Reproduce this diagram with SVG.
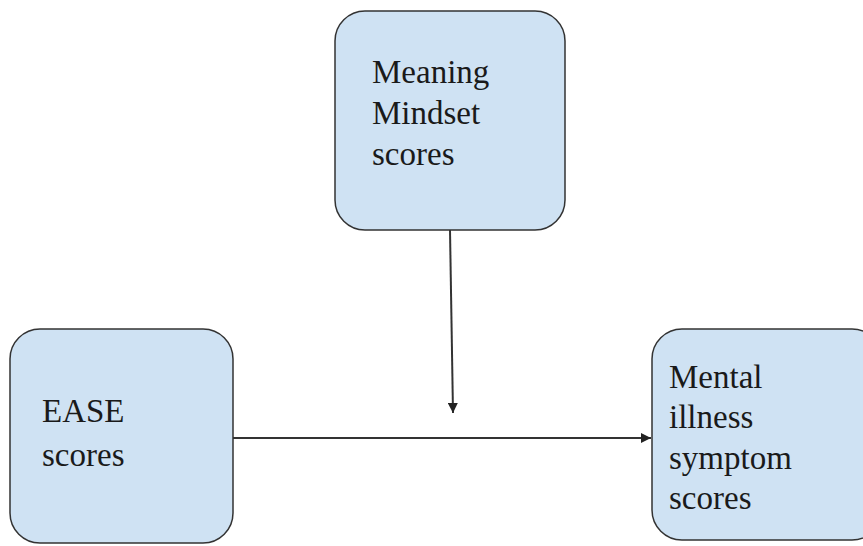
<svg xmlns="http://www.w3.org/2000/svg" width="863" height="546" viewBox="0 0 863 546">
<defs>
<style>
.box{fill:#cfe2f3;stroke:#333;stroke-width:1.5}
.t{font-family:'Liberation Serif','Times New Roman',serif;font-size:33px;fill:#1a1a1a}
.c{stroke:#333;stroke-width:2;fill:none}
</style>
<marker id="ah" viewBox="0 0 10 10" refX="10" refY="5" markerWidth="5" markerHeight="5" orient="auto" markerUnits="strokeWidth">
<path d="M0,0 L10,5 L0,10 z" fill="#222"/>
</marker>
</defs>
<rect width="863" height="546" fill="#fff"/>
<g id="connectors">
<line class="c" x1="450" y1="230" x2="453" y2="413" marker-end="url(#ah)"/>
<line class="c" x1="233" y1="438" x2="651" y2="438" marker-end="url(#ah)"/>
</g>
<g id="meaning">
<rect class="box" x="335" y="11" width="230" height="219" rx="30"/>
<text class="t" x="372" y="83">Meaning</text>
<text class="t" x="372" y="124">Mindset</text>
<text class="t" x="372" y="165">scores</text>
</g>
<g id="ease">
<rect class="box" x="10" y="329" width="223" height="214" rx="30"/>
<text class="t" x="42" y="422">EASE</text>
<text class="t" x="42" y="466">scores</text>
</g>
<g id="mental">
<rect class="box" x="652" y="329" width="230" height="211" rx="30"/>
<text class="t" x="669" y="388">Mental</text>
<text class="t" x="669" y="428">illness</text>
<text class="t" x="669" y="469">symptom</text>
<text class="t" x="669" y="509">scores</text>
</g>
</svg>
